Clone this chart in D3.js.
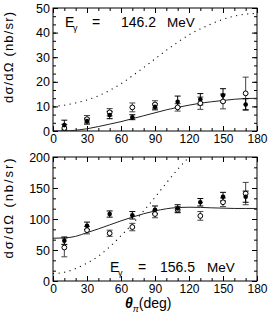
<!DOCTYPE html>
<html><head><meta charset="utf-8">
<script src="https://cdn.jsdelivr.net/npm/d3@7"></script>
<style>body{margin:0;background:#fff}svg{display:block}text{font-family:"Liberation Sans",Arial,sans-serif;fill:#000}</style>
</head><body>
<script>
const angles = [10,30,50,70,90,110,130,150,170];
// Panel 1: E_gamma = 146.2 MeV
const topFilled = [2.4,4.0,6.5,5.6,9.8,11.9,12.9,14.5,10.8];
const topFilledErr = [2.0,1.2,1.5,1.0,1.2,2.3,2.3,2.7,2.3];
const topOpen = [1.2,4.8,7.6,9.6,10.8,9.6,11.3,12.0,15.3];
const topOpenErr = [1.5,1.5,1.5,1.8,1.5,1.5,2.5,3.0,6.6];
// Panel 2: E_gamma = 156.5 MeV
const botFilled = [65,89,108,106,115,117,127,136,136];
const botFilledErr = [6,6,5,6,6,6,6,7,9];
const botOpen = [54,82,77,87,108,115,105,127,141];
const botOpenErr = [15,6,5,6,6,5,7,7,18];
// Theory curves sampled every 10 degrees
const curveAngles = [0,10,20,30,40,50,60,70,80,90,100,110,120,130,140,150,160,170,180];
const topSolid = [0,0,0.3,0.9,1.8,2.8,3.8,5.0,6.2,7.4,8.6,9.6,10.5,11.3,11.9,12.4,12.9,13.2,13.3];
const topDotted = [10,10.5,11.4,12.6,14.3,16.5,19.2,22.4,25.8,29.3,32.8,36.1,39.1,41.5,43.6,45.4,46.7,47.5,47.8];
const botSolid = [69,69.5,72,78,84,90.5,97,103,108.5,113,116.5,118.5,119,118.7,118,117.5,117,117,117];
const botDotted = [12,14,20,29,40,55,73,92,113,135,158,180,200,218,234,246,254,258,260];
const xTicks = [0,30,60,90,120,150,180];
const topYTicks = [0,10,20,30,40,50];
const botYTicks = [0,50,100,150,200];

const W=276,H=317;
const svg=d3.select("body").append("svg").attr("width",W).attr("height",H);
const x0=53,x1=257;

function panel(cfg){
  const x=d3.scaleLinear().domain([0,180]).range([x0,x1]);
  const y=d3.scaleLinear().domain([0,cfg.ymax]).range([cfg.yb,cfg.yt]);
  const g=svg.append("g");
  const clipId="clip"+cfg.id;
  svg.append("clipPath").attr("id",clipId).append("rect")
    .attr("x",x0).attr("y",cfg.yt).attr("width",x1-x0).attr("height",cfg.yb-cfg.yt);
  g.append("rect").attr("x",x0).attr("y",cfg.yt).attr("width",x1-x0).attr("height",cfg.yb-cfg.yt)
    .attr("fill","none").attr("stroke","#000").attr("stroke-width",1);
  const minorX=d3.range(0,181,10);
  const yMinorStep=(cfg.yTicks[1]-cfg.yTicks[0])/3;
  const yMinor=d3.range(0,cfg.ymax+1e-6,yMinorStep);
  const ax=(axis,sc,vals,len)=>axis(sc).tickValues(vals).tickSize(len).tickFormat("");
  const addAxis=(a,tx)=>{const s=g.append("g").attr("transform",tx).call(a);s.select(".domain").remove();s.selectAll("line").attr("stroke","#000");};
  addAxis(ax(d3.axisTop,x,minorX,3),`translate(0,${cfg.yb})`);
  addAxis(ax(d3.axisTop,x,xTicks,5),`translate(0,${cfg.yb})`);
  addAxis(ax(d3.axisBottom,x,minorX,3),`translate(0,${cfg.yt})`);
  addAxis(ax(d3.axisBottom,x,xTicks,5),`translate(0,${cfg.yt})`);
  addAxis(ax(d3.axisRight,y,yMinor,3),`translate(${x0},0)`);
  addAxis(ax(d3.axisRight,y,cfg.yTicks,5),`translate(${x0},0)`);
  addAxis(ax(d3.axisLeft,y,yMinor,3),`translate(${x1},0)`);
  addAxis(ax(d3.axisLeft,y,cfg.yTicks,5),`translate(${x1},0)`);
  const xl=g.append("g").attr("transform",`translate(0,${cfg.yb})`).call(d3.axisBottom(x).tickValues(xTicks).tickSize(0).tickPadding(3).tickFormat(d3.format("d")));
  xl.select(".domain").remove();
  xl.selectAll("text").attr("font-size",12).attr("font-family","Liberation Sans, Arial, sans-serif").attr("fill","#000");
  const yl=g.append("g").attr("transform",`translate(${x0},0)`).call(d3.axisLeft(y).tickValues(cfg.yTicks).tickSize(0).tickPadding(3).tickFormat(d3.format("d")));
  yl.select(".domain").remove();
  yl.selectAll("text").attr("font-size",12.5).attr("font-family","Liberation Sans, Arial, sans-serif").attr("fill","#000");
  const line=d3.line().x((d,i)=>x(curveAngles[i])).y(d=>y(d)).curve(d3.curveMonotoneX);
  const cg=g.append("g").attr("clip-path",`url(#${clipId})`);
  cg.append("path").attr("d",line(cfg.dotted)).attr("fill","none").attr("stroke","#000").attr("stroke-width",1.1).attr("stroke-dasharray","1.1,4.5");
  cg.append("path").attr("d",line(cfg.solid)).attr("fill","none").attr("stroke","#222").attr("stroke-width",1);
  const eb=(vals,errs,col)=>{
    angles.forEach((a,i)=>{
      const cx=x(a),lo=y(vals[i]-errs[i]),hi=y(vals[i]+errs[i]);
      cg.append("line").attr("x1",cx).attr("x2",cx).attr("y1",lo).attr("y2",hi).attr("stroke",col).attr("stroke-width",1);
      [lo,hi].forEach(yy=>cg.append("line").attr("x1",cx-3).attr("x2",cx+3).attr("y1",yy).attr("y2",yy).attr("stroke",col).attr("stroke-width",1));
    });
  };
  eb(cfg.open,cfg.openErr,"#444");
  eb(cfg.filled,cfg.filledErr,"#000");
  cg.selectAll(null).data(cfg.open).enter().append("circle")
    .attr("cx",(d,i)=>x(angles[i])).attr("cy",d=>y(d)).attr("r",2.4)
    .attr("fill","#fff").attr("stroke","#000").attr("stroke-width",1);
  cg.selectAll(null).data(cfg.filled).enter().append("circle")
    .attr("cx",(d,i)=>x(angles[i])).attr("cy",d=>y(d)).attr("r",2.3).attr("fill","#000");
  const L=cfg.label;
  g.append("text").attr("x",L.ex).attr("y",L.by).attr("font-size",14).text("E");
  g.append("text").attr("x",L.ex+8).attr("y",L.by+4).attr("font-size",9).text("γ");
  g.append("text").attr("x",L.eqx).attr("y",L.by).attr("font-size",14).text("=");
  g.append("text").attr("x",L.nx).attr("y",L.by).attr("font-size",14).text(cfg.energy);
  g.append("text").attr("x",L.mx).attr("y",L.by).attr("font-size",13.5).text("MeV");
  g.append("text").attr("transform",`translate(13,${cfg.tc}) rotate(-90)`).attr("text-anchor","middle")
    .attr("font-size",13).attr("textLength",cfg.tl).attr("lengthAdjust","spacing").text("dσ/dΩ (nb/sr)");
}

panel({id:1,ymax:50,yt:8,yb:131,yTicks:topYTicks,filled:topFilled,filledErr:topFilledErr,open:topOpen,openErr:topOpenErr,
  solid:topSolid,dotted:topDotted,energy:"146.2",label:{ex:65,by:27,eqx:92,nx:121,mx:167},tc:57.5,tl:91});
panel({id:2,ymax:200,yt:157,yb:281,yTicks:botYTicks,filled:botFilled,filledErr:botFilledErr,open:botOpen,openErr:botOpenErr,
  solid:botSolid,dotted:botDotted,energy:"156.5",label:{ex:110,by:272,eqx:138,nx:160,mx:207},tc:208.5,tl:100});

const xt=svg.append("text").attr("x",125).attr("y",308).attr("font-size",14);
xt.append("tspan").attr("font-style","italic").attr("font-weight","bold").text("θ");
xt.append("tspan").attr("font-size",9).attr("dy",4).attr("font-style","italic").text("π");
xt.append("tspan").attr("dy",-4).text("(deg)");
</script>
</body></html>
